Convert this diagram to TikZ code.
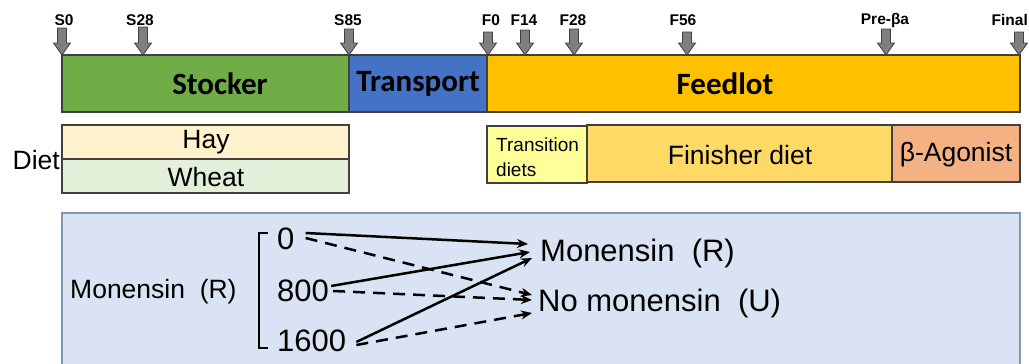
\documentclass[tikz,border=0pt]{standalone}
\usepackage{fontspec}
\setmainfont{Liberation Sans}
\newfontfamily\calib{Carlito}
\usetikzlibrary{calc,arrows.meta}
\definecolor{stockgreen}{HTML}{70AD47}
\definecolor{transblue}{HTML}{4472C4}
\definecolor{feedgold}{HTML}{FFC000}
\definecolor{hayfill}{HTML}{FFF2CC}
\definecolor{wheatfill}{HTML}{E2F0D9}
\definecolor{transfill}{HTML}{FFFF99}
\definecolor{finfill}{HTML}{FFD966}
\definecolor{betafill}{HTML}{F4B183}
\definecolor{panelfill}{HTML}{DAE3F3}
\definecolor{panelline}{HTML}{8497B0}
\definecolor{outl}{HTML}{404040}
\definecolor{markfill}{HTML}{7F7F7F}
\tikzset{
  bar/.style={draw=outl, line width=1.1pt, inner sep=0pt, outer sep=0pt, anchor=north west},
  bartxt/.style={inner sep=0pt, font=\calib\bfseries\fontsize{31}{31}\selectfont},
  dietbox/.style={draw=outl, line width=1.1pt, inner sep=0pt, outer sep=0pt, anchor=north west},
  diettxt/.style={inner sep=0pt, font=\fontsize{26.5}{26.5}\selectfont},
  marklab/.style={inner sep=0pt, font=\bfseries\fontsize{15.5}{15.5}\selectfont},
  marker/.style={fill=markfill, draw=outl, line width=0.8pt},
  bigtxt/.style={inner sep=0pt, anchor=base west, font=\fontsize{31}{31}\selectfont},
  solidarr/.style={line width=2.5pt, -{Stealth[length=11pt,width=9pt]}},
  dasharr/.style={line width=2.5pt, dash pattern=on 12pt off 8pt, -{Stealth[length=11pt,width=9pt]}},
}
\begin{document}
\begin{tikzpicture}[x=1pt,y=-1pt]
\clip (0,0) rectangle (1029,364);
\fill[white] (0,0) rectangle (1029,364);

% timeline bars
\node[bar, fill=stockgreen, minimum width=287pt, minimum height=57pt] (stocker) at (62,55) {};
\node[bartxt] (stocktxt) at (220,84) {Stocker};
\node[bar, fill=transblue, minimum width=138pt, minimum height=57pt] (transport) at (349,55) {};
\node[bartxt] (transtxt) at (418,84) {Transport};
\node[bar, fill=feedgold, minimum width=533pt, minimum height=57pt] (feedlot) at (487,55) {};
\node[bartxt] (feedtxt) at (725,84) {Feedlot};

% markers
\foreach \x/\t in {62/28, 143/27, 349/29, 488/32, 525/30, 574/29, 687/32, 886/29, 1019/32}{
  \fill[marker] (\x-4.5,\t) -- (\x+4.5,\t) -- (\x+4.5,43) -- (\x+8.5,43) -- (\x,55) -- (\x-8.5,43) -- (\x-4.5,43) -- cycle;
}
\foreach \lx/\lab [count=\i] in {64/S0, 140/S28, 348/S85, 491/F0, 524/F14, 573/F28, 683/F56, 885/Pre-βa}{
  \node[marklab] (lab\i) at (\lx,20) {\lab};
}
\node[marklab, anchor=east] (labfinal) at (1028,20) {Final};

% diet row
\node[dietbox, fill=hayfill, minimum width=287pt, minimum height=34pt] (hay) at (62,125) {};
\node[dietbox, fill=wheatfill, minimum width=287pt, minimum height=34pt] (wheat) at (62,159) {};
\draw[outl, line width=2pt] (hay.south west) -- (hay.south east);
\node[diettxt] (haytxt) at (206,142) {Hay};
\node[diettxt] (wheattxt) at (206,177) {Wheat};
\node[diettxt, anchor=east] (diet) at (60,160) {Diet};

\node[dietbox, fill=transfill, minimum width=100pt, minimum height=57pt] (trans) at (487,126) {};
\node[inner sep=0pt, anchor=west, align=left, font=\fontsize{19}{25}\selectfont] (transtxt2) at (496,157) {Transition\\diets};
\node[dietbox, fill=finfill, minimum width=305pt, minimum height=57pt] (finisher) at (587,125) {};
\node[diettxt] (fintxt) at (740,155) {Finisher diet};
\node[dietbox, fill=betafill, minimum width=128pt, minimum height=57pt] (beta) at (892,125) {};
\node[diettxt] (betatxt) at (956,155) {β-Agonist};

% monensin panel
\draw[fill=panelfill, draw=panelline, line width=1.3pt] (62,213) rectangle (1020,380);
\node[inner sep=0pt, anchor=west, font=\fontsize{26.5}{26.5}\selectfont] (monleft) at (70,292) {Monensin\ \ (R)};
\draw[line width=2pt, line cap=butt] (268,233) -- (259,233) -- (259,348) -- (268,348);

\node[bigtxt] (n0) at (277,249) {0};
\node[bigtxt] (n800) at (277,301) {800};
\node[bigtxt] (n1600) at (277,351) {1600};
\node[bigtxt] (mR) at (540,261) {Monensin\ \ (R)};
\node[bigtxt] (mU) at (538,311) {No monensin\ \ (U)};

\draw[solidarr] ([shift={(11,-16)}]n0.base east) -- ([shift={(-12,-17)}]mR.base west);
\draw[dasharr] ([shift={(11,-11)}]n0.base east) -- ([shift={(-6,-16)}]mU.base west);
\draw[solidarr] ([shift={(2,-15)}]n800.base east) -- ([shift={(-10,-9)}]mR.base west);
\draw[dasharr] ([shift={(4,-10)}]n800.base east) -- ([shift={(-6,-11)}]mU.base west);
\draw[solidarr] ([shift={(10,-9)}]n1600.base east) -- ([shift={(-8,-3)}]mR.base west);
\draw[dasharr] ([shift={(10,-6)}]n1600.base east) -- ([shift={(-6,2)}]mU.base west);
\end{tikzpicture}
\end{document}
